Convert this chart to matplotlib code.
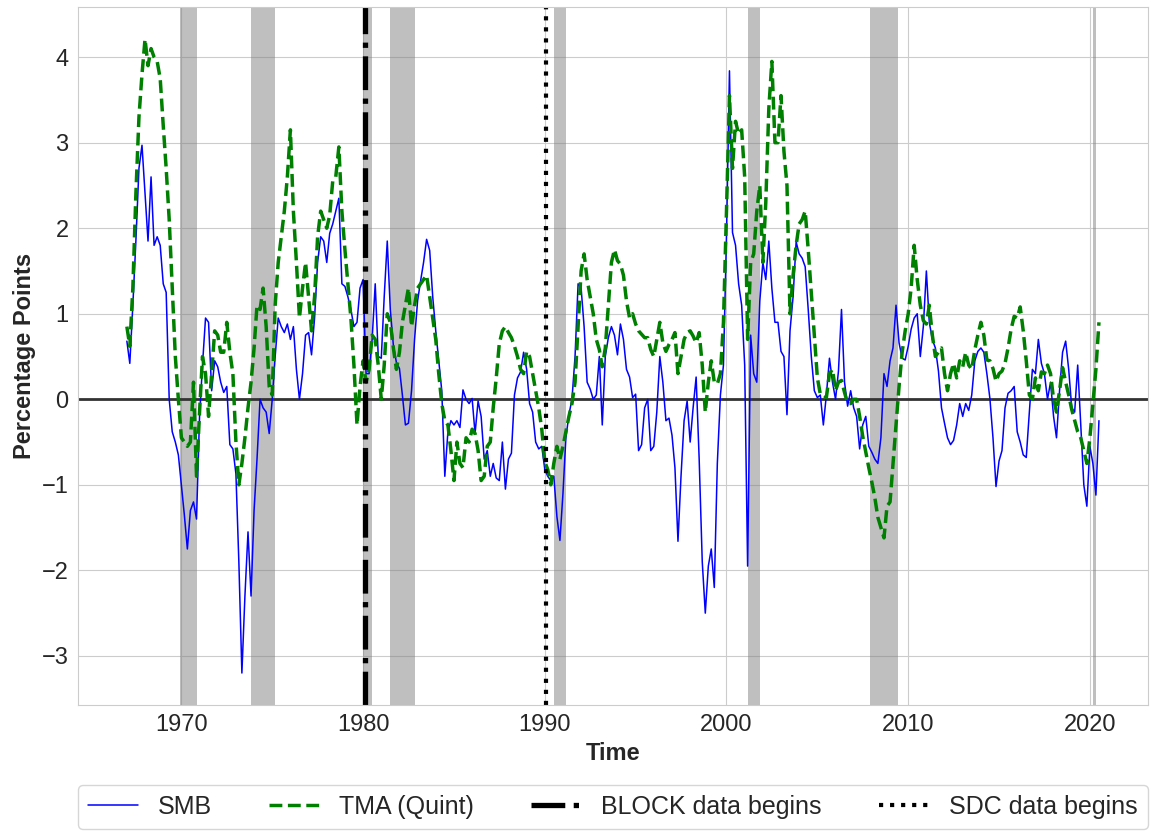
import numpy as np
import pandas as pd
import matplotlib
matplotlib.use("Agg")
import matplotlib.pyplot as plt
import matplotlib.dates as mdates
import seaborn as sns

sns.set_style("whitegrid")
plt.rcParams["font.family"] = ["Liberation Sans", "DejaVu Sans"]

# bimonthly observations, Jan 1967 .. Jul 2020
dates = pd.date_range("1967-01-01", "2020-07-01", freq="2MS")

smb = [
    0.68, 0.42, 1.1, 1.85, 2.7, 2.97,        # 1967
    2.4, 1.85, 2.6, 1.8, 1.9, 1.8,           # 1968
    1.35, 1.25, 0.0, -0.38, -0.5, -0.65,     # 1969
    -1.0, -1.35, -1.75, -1.3, -1.2, -1.4,    # 1970
    -0.2, 0.4, 0.95, 0.9, 0.1, 0.45,         # 1971
    0.38, 0.2, 0.08, 0.15, -0.53, -0.58,     # 1972
    -0.87, -1.9, -3.2, -2.3, -1.55, -2.3,    # 1973
    -1.3, -0.7, 0.0, -0.1, -0.15, -0.4,      # 1974
    0.0, 0.5, 0.95, 0.85, 0.78, 0.88,        # 1975
    0.7, 0.85, 0.35, 0.0, 0.3, 0.75,         # 1976
    0.78, 0.52, 0.95, 1.6, 1.9, 1.85,        # 1977
    1.6, 1.94, 2.05, 2.2, 2.35, 1.35,        # 1978
    1.32, 1.2, 1.05, 0.85, 0.9, 1.3,         # 1979
    1.4, 0.3, 0.3, 0.7, 1.35, 0.5,           # 1980
    0.48, 1.2, 1.85, 1.05, 0.63, 0.43,       # 1981
    0.36, 0.05, -0.3, -0.28, 0.1, 0.7,       # 1982
    1.15, 1.38, 1.6, 1.87, 1.74, 1.2,        # 1983
    0.8, 0.45, 0.1, -0.9, -0.38, -0.25,      # 1984
    -0.3, -0.25, -0.33, 0.11, 0.0, -0.05,    # 1985
    0.01, -0.4, -0.02, -0.2, -0.7, -0.6,     # 1986
    -0.9, -0.75, -0.92, -0.95, -0.5, -1.05,  # 1987
    -0.7, -0.63, 0.05, 0.25, 0.32, 0.55,     # 1988
    0.35, -0.05, -0.15, -0.5, -0.58, -0.55,  # 1989
    -0.82, -0.9, -0.95, -0.9, -1.37, -1.65,  # 1990
    -1.1, -0.45, -0.18, 0.0, 0.5, 1.35,      # 1991
    1.3, 0.85, 0.2, 0.12, 0.0, 0.05,         # 1992
    0.5, -0.3, 0.5, 0.72, 0.85, 0.75,        # 1993
    0.52, 0.88, 0.7, 0.35, 0.26, 0.02,       # 1994
    0.06, -0.6, -0.53, -0.1, 0.0, -0.6,      # 1995
    -0.55, -0.15, 0.5, 0.2, -0.25, -0.22,    # 1996
    -0.42, -0.8, -1.66, -0.9, -0.25, -0.02,  # 1997
    -0.5, -0.1, 0.26, -0.7, -1.9, -2.5,      # 1998
    -1.95, -1.75, -2.2, -0.75, 0.05, 0.4,    # 1999
    1.9, 3.84, 1.95, 1.8, 1.35, 1.1,         # 2000
    0.4, -1.95, 0.75, 0.3, 0.2, 1.15,        # 2001
    1.6, 1.4, 1.85, 1.3, 0.9, 0.9,           # 2002
    0.56, 0.5, -0.18, 0.8, 1.2, 1.84,        # 2003
    1.7, 1.65, 1.55, 1.05, 0.5, 0.1,         # 2004
    0.02, 0.05, -0.3, 0.05, 0.48, 0.2,       # 2005
    0.0, 0.33, 1.05, 0.2, -0.08, 0.1,        # 2006
    -0.1, -0.2, -0.58, -0.3, -0.2, -0.55,    # 2007
    -0.62, -0.7, -0.75, -0.45, 0.3, 0.15,    # 2008
    0.45, 0.6, 1.1, 0.66, 0.48, 0.46,        # 2009
    0.62, 0.82, 0.95, 1.0, 0.5, 0.85,        # 2010
    1.5, 0.9, 0.7, 0.6, 0.33, -0.1,          # 2011
    -0.28, -0.45, -0.53, -0.48, -0.3, -0.05, # 2012
    -0.2, -0.05, -0.13, 0.05, 0.45, 0.56,    # 2013
    0.6, 0.55, 0.3, 0.01, -0.45, -1.02,      # 2014
    -0.72, -0.6, -0.1, 0.07, 0.1, 0.15,      # 2015
    -0.38, -0.5, -0.65, -0.68, -0.15, 0.35,  # 2016
    0.3, 0.7, 0.42, 0.3, 0.0, 0.2,           # 2017
    -0.2, -0.45, 0.1, 0.55, 0.68, 0.35,      # 2018
    -0.1, -0.15, 0.4, -0.3, -1.0, -1.25,     # 2019
    -0.55, -0.75, -1.12, -0.25,              # 2020
]

tma = [
    0.85, 0.62, 1.3, 2.4, 3.3, 3.8,          # 1967
    4.21, 3.9, 4.1, 4.0, 3.95, 3.75,         # 1968
    3.2, 2.7, 2.1, 1.3, 0.5, 0.0,            # 1969
    -0.45, -0.5, -0.55, -0.5, 0.2, -0.9,     # 1970
    -0.15, 0.5, 0.3, -0.2, 0.3, 0.8,         # 1971
    0.75, 0.55, 0.55, 0.9, 0.55, 0.3,        # 1972
    -0.5, -1.0, -0.75, -0.45, -0.1, 0.2,     # 1973
    0.6, 1.1, 1.05, 1.3, 0.85, 0.15,         # 1974
    0.05, 1.1, 1.6, 1.9, 2.2, 2.6,           # 1975
    3.15, 2.2, 1.6, 0.95, 1.3, 1.6,          # 1976
    1.2, 0.8, 1.2, 1.9, 2.2, 2.1,            # 1977
    2.0, 2.15, 2.55, 2.6, 2.95, 2.2,         # 1978
    1.75, 1.35, 0.95, 0.4, -0.3, 0.15,       # 1979
    0.45, 0.2, 0.35, 0.75, 0.7, 0.4,         # 1980
    0.0, 0.4, 1.0, 0.9, 0.6, 0.35,           # 1981
    0.55, 0.9, 1.1, 1.3, 0.85, 1.1,          # 1982
    1.3, 1.35, 1.4, 1.45, 1.2, 0.95,         # 1983
    0.7, 0.3, -0.05, -0.25, -0.3, -0.6,      # 1984
    -0.95, -0.5, -0.75, -0.8, -0.45, -0.5,   # 1985
    -0.35, -0.4, -0.6, -0.95, -0.9, -0.55,   # 1986
    -0.5, -0.1, 0.25, 0.65, 0.8, 0.85,       # 1987
    0.78, 0.72, 0.62, 0.5, 0.35, 0.3,        # 1988
    0.56, 0.5, 0.3, 0.1, -0.1, -0.35,        # 1989
    -0.73, -0.82, -1.0, -0.75, -0.55, -0.7,  # 1990
    -0.55, -0.38, -0.2, -0.05, 0.2, 0.85,    # 1991
    1.5, 1.7, 1.4, 1.2, 1.0, 0.7,            # 1992
    0.58, 0.38, 0.6, 1.1, 1.6, 1.75,         # 1993
    1.62, 1.58, 1.45, 1.15, 0.95, 1.0,       # 1994
    0.88, 0.8, 0.76, 0.72, 0.72, 0.58,       # 1995
    0.5, 0.7, 0.9, 0.66, 0.56, 0.64,         # 1996
    0.7, 0.78, 0.3, 0.5, 0.7, 0.78,          # 1997
    0.8, 0.74, 0.66, 0.78, 0.4, -0.15,       # 1998
    0.2, 0.45, 0.2, 0.18, 0.3, 0.9,          # 1999
    2.2, 3.55, 2.7, 3.25, 3.1, 3.15,         # 2000
    2.6, 0.7, 1.6, 1.7, 2.2, 2.5,            # 2001
    1.6, 2.3, 3.4, 3.95, 3.0, 3.0,           # 2002
    3.55, 2.9, 2.5, 1.0, 1.45, 1.8,          # 2003
    2.05, 2.1, 2.2, 1.75, 1.25, 0.75,        # 2004
    0.25, 0.06, 0.05, 0.02, 0.3, 0.35,       # 2005
    0.1, 0.2, 0.22, 0.08, -0.05, -0.05,      # 2006
    0.0, 0.0, -0.2, -0.43, -0.62, -0.8,      # 2007
    -0.97, -1.15, -1.38, -1.5, -1.62, -1.25, # 2008
    -1.2, -0.75, -0.3, 0.15, 0.55, 0.8,      # 2009
    1.0, 1.3, 1.8, 1.4, 1.1, 0.92,           # 2010
    0.88, 1.1, 0.75, 0.5, 0.55, 0.6,         # 2011
    0.3, 0.1, 0.3, 0.42, 0.25, 0.45,         # 2012
    0.38, 0.55, 0.4, 0.35, 0.58, 0.75,       # 2013
    0.9, 0.75, 0.46, 0.45, 0.36, 0.21,       # 2014
    0.3, 0.33, 0.42, 0.6, 0.82, 0.97,        # 2015
    0.95, 1.08, 0.8, 0.45, 0.05, 0.0,        # 2016
    0.25, 0.1, 0.32, 0.3, 0.4, 0.3,          # 2017
    0.0, -0.15, 0.1, 0.37, 0.2, 0.05,        # 2018
    -0.12, -0.25, -0.38, -0.45, -0.6, -0.75, # 2019
    -0.45, -0.05, 0.35, 0.9,                 # 2020
]

# NBER recessions (shaded)
recessions = [
    ("1969-12-01", "1970-11-01"),
    ("1973-11-01", "1975-03-01"),
    ("1980-01-01", "1980-07-01"),
    ("1981-07-01", "1982-11-01"),
    ("1990-07-01", "1991-03-01"),
    ("2001-03-01", "2001-11-01"),
    ("2007-12-01", "2009-06-01"),
    ("2020-03-01", "2020-05-01"),
]
block_start = "1980-02-01"
sdc_start = "1990-02-01"

fig = plt.figure(figsize=(11.51, 8.32), dpi=100)
ax = fig.add_axes([0.068, 0.153, 0.929, 0.838])

for start, end in recessions:
    ax.axvspan(pd.Timestamp(start), pd.Timestamp(end), color="gray", alpha=0.5, lw=0)

ax.axhline(0, color="#333333", lw=2)
ax.plot(dates, smb, color="blue", lw=1.1, label="SMB")
ax.plot(dates, tma, color="green", ls="--", lw=2.5, label="TMA (Quint)")
ax.axvline(pd.Timestamp(block_start), color="black", ls="-.", lw=3.8, label="BLOCK data begins")
ax.axvline(pd.Timestamp(sdc_start), color="black", ls=":", lw=3, label="SDC data begins")

ax.xaxis.set_major_locator(mdates.YearLocator(10))
ax.xaxis.set_major_formatter(mdates.DateFormatter("%Y"))
ax.tick_params(labelsize=17)
ax.set_xlabel("Time", fontsize=17, fontweight="bold")
ax.set_ylabel("Percentage Points", fontsize=17, fontweight="bold")

ax.legend(loc="upper left", bbox_to_anchor=(0, -0.115, 1, 0), mode="expand",
          ncol=4, fontsize=18, borderaxespad=0)

fig.savefig("out.png", dpi=100)
